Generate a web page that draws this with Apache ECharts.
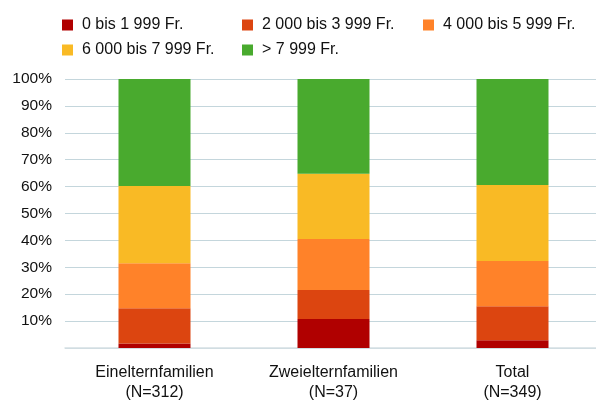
<!DOCTYPE html>
<html>
<head>
<meta charset="utf-8">
<script src="https://cdn.jsdelivr.net/npm/echarts@6/dist/echarts.min.js"></script>
<style>
  html, body { margin: 0; padding: 0; background: #fff; }
  #chart { width: 596px; height: 401px; }
</style>
</head>
<body>
<div id="chart"></div>
<script>
// Household income shares (in %) per family type
const categories = ['Einelternfamilien\n(N=312)', 'Zweielternfamilien\n(N=37)', 'Total\n(N=349)'];
const seriesNames = ['0 bis 1 999 Fr.', '2 000 bis 3 999 Fr.', '4 000 bis 5 999 Fr.', '6 000 bis 7 999 Fr.', '> 7 999 Fr.'];
const band0to1999 = [1.7, 10.8, 2.9];
const band2000to3999 = [13.1, 10.8, 12.6];
const band4000to5999 = [16.7, 18.9, 16.8];
const band6000to7999 = [28.7, 24.3, 28.3];
const bandAbove7999 = [39.8, 35.2, 39.4];
const yTicks = [10, 20, 30, 40, 50, 60, 70, 80, 90, 100];

const seriesValues = [band0to1999, band2000to3999, band4000to5999, band6000to7999, bandAbove7999];
const colors = ['#B00000', '#DC4510', '#FF8229', '#F9BA25', '#49AA2E'];
const font = 'Arial, "Liberation Sans", sans-serif';

// legend item positions: three columns, two rows
const legendPos = [[62, 17], [242, 17], [423, 17], [62, 42], [242, 42]];
const legends = seriesNames.map((name, i) => ({
  data: [name],
  left: legendPos[i][0],
  top: legendPos[i][1],
  icon: 'rect',
  itemWidth: 11,
  itemHeight: 11,
  itemGap: 0,
  padding: 0,
  selectedMode: false,
  textStyle: { fontFamily: font, fontSize: 16, color: '#111', padding: [0, 0, 0, 4] }
}));

const chart = echarts.init(document.getElementById('chart'), null, { renderer: 'canvas' });
chart.setOption({
  animation: false,
  color: colors,
  legend: legends,
  grid: { left: 65, top: 79, width: 537, height: 269, outerBoundsMode: 'none', containLabel: false },
  xAxis: {
    type: 'category',
    data: categories,
    axisLine: { show: true, lineStyle: { color: '#d5e0e4', width: 1.5 } },
    axisTick: { show: false },
    axisLabel: { fontFamily: font, fontSize: 16, color: '#111', lineHeight: 20, margin: 15 }
  },
  yAxis: {
    type: 'value',
    min: 0,
    max: 100,
    interval: 10,
    axisLine: { show: false },
    axisTick: { show: false },
    splitLine: { lineStyle: { color: '#c4d6dc', width: 1 } },
    axisLabel: {
      fontFamily: font, fontSize: 15.5, color: '#111', margin: 13,
      formatter: v => (yTicks.includes(v) ? v + '%' : '')
    }
  },
  series: seriesNames.map((name, i) => ({
    name: name,
    type: 'bar',
    stack: 'total',
    barWidth: 72,
    data: seriesValues[i],
    itemStyle: { color: colors[i] }
  }))
});
</script>
</body>
</html>
